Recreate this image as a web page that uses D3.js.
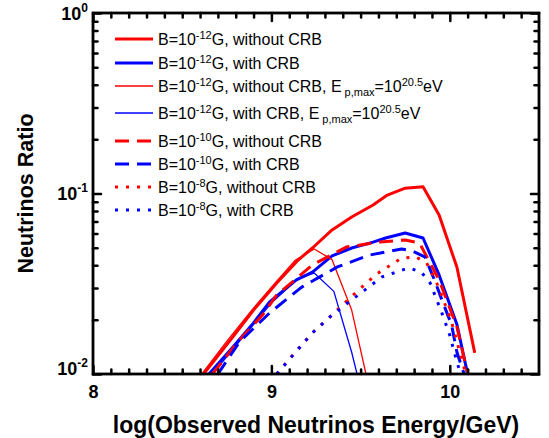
<!DOCTYPE html>
<html>
  <head>
    <script type="text/javascript" src="https://d3js.org/d3.v7.min.js"></script>
    <style>
      body {
        margin: 0;
        background-color: #fff;
      }
      .axis path {
        display: none;
      }
      .axis line {
        stroke: #000;
        stroke-width: 2.5;
        stroke-linecap: round;
      }
      .axis text,
      .tickLabel {
        fill: #000;
        font: bold 18px 'Liberation Sans', Arial, sans-serif;
      }
      .title {
        fill: #000;
        font: bold 23px 'Liberation Sans', Arial, sans-serif;
      }
      .legend text {
        fill: #000;
        font: 16px 'Liberation Sans', Arial, sans-serif;
      }
      .curve {
        fill: none;
        stroke-linejoin: round;
      }
    </style>
  </head>
  <body>
    <svg id="chart" width="549" height="438"></svg>

    <script type="text/javascript">
      // x = log(E/GeV), r = neutrinos ratio
      var eRedThick = [8.62, 8.77, 8.9, 9.03, 9.15, 9.23, 9.34, 9.45, 9.57, 9.65, 9.75, 9.85, 9.94, 10.04, 10.14];
      var rRedThick = [0.01, 0.0154, 0.0226, 0.0319, 0.0428, 0.0499, 0.0628, 0.0741, 0.0864, 0.098, 0.107, 0.109, 0.076, 0.039, 0.0131];

      var eBlueThick = [8.65, 8.77, 8.9, 8.99, 9.14, 9.23, 9.34, 9.45, 9.57, 9.64, 9.75, 9.85, 9.94, 10.04, 10.1];
      var rBlueThick = [0.01, 0.0136, 0.0192, 0.0251, 0.0332, 0.0367, 0.0451, 0.0499, 0.0538, 0.0567, 0.0604, 0.0567, 0.0354, 0.0188, 0.01];

      var eRedThin = [8.61, 8.755, 8.89, 9.02, 9.135, 9.24, 9.34, 9.45, 9.53];
      var rRedThin = [0.01, 0.0154, 0.0226, 0.0319, 0.0428, 0.0493, 0.043, 0.0226, 0.01];

      var eBlueThin = [8.67, 8.86, 9.0, 9.14, 9.24, 9.35, 9.45, 9.48];
      var rBlueThin = [0.01, 0.0169, 0.0247, 0.0332, 0.0363, 0.0287, 0.0132, 0.01];

      var eRedDash = [8.67, 8.82, 8.95, 9.03, 9.23, 9.42, 9.61, 9.75, 9.83, 9.94, 10.04, 10.1];
      var rRedDash = [0.01, 0.0154, 0.0212, 0.0274, 0.0402, 0.0505, 0.0539, 0.0553, 0.0532, 0.0332, 0.0182, 0.01];

      var eBlueDash = [8.7, 8.82, 8.99, 9.17, 9.37, 9.55, 9.73, 9.79, 9.86, 9.91, 9.96, 10.01, 10.04, 10.08];
      var rBlueDash = [0.01, 0.015, 0.0218, 0.0303, 0.0392, 0.0456, 0.0493, 0.048, 0.0445, 0.034, 0.0251, 0.0187, 0.0132, 0.01];

      var eRedDot = [9.03, 9.13, 9.23, 9.34, 9.44, 9.59, 9.73, 9.81, 9.87, 9.92, 9.96, 10.01, 10.05, 10.09];
      var rRedDot = [0.01, 0.0131, 0.0169, 0.0212, 0.0264, 0.0358, 0.0439, 0.0445, 0.0412, 0.0332, 0.0264, 0.0194, 0.0139, 0.01];

      var eBlueDot = [9.03, 9.23, 9.34, 9.45, 9.62, 9.77, 9.84, 9.89, 9.96, 10.0, 10.03, 10.06];
      var rBlueDot = [0.01, 0.0169, 0.0212, 0.0257, 0.0345, 0.0387, 0.0367, 0.0319, 0.0212, 0.0164, 0.0127, 0.01];

      // legend texts: field exponent, CRB case, and whether Ep,max = 10^20.5 eV
      var legendField = ['-12', '-12', '-12', '-12', '-10', '-10', '-8', '-8'];
      var legendCRB = ['without CRB', 'with CRB', 'without CRB', 'with CRB', 'without CRB', 'with CRB', 'without CRB', 'with CRB'];
      var legendEmax = [false, false, true, true, false, false, false, false];

      var xTickValues = [8, 9, 10];
      var yTickValues = [1, 0.1, 0.01];
      var yTickExp = ['0', '-1', '-2'];

      var series = [
        [eRedThick, rRedThick],
        [eBlueThick, rBlueThick],
        [eRedThin, rRedThin],
        [eBlueThin, rBlueThin],
        [eRedDash, rRedDash],
        [eBlueDash, rBlueDash],
        [eRedDot, rRedDot],
        [eBlueDot, rBlueDot],
      ];
      // line styles, same order as series
      var styles = [
        { color: '#ff0000', width: 3, dash: null },
        { color: '#0000ff', width: 3, dash: null },
        { color: '#ff0000', width: 1.3, dash: null },
        { color: '#0000ff', width: 1.3, dash: null },
        { color: '#ff0000', width: 3, dash: '14,8' },
        { color: '#0000ff', width: 3, dash: '14,8' },
        { color: '#ff0000', width: 3, dash: '3,8' },
        { color: '#0000ff', width: 3, dash: '3,8' },
      ];

      // plot box in page pixels (note: "top" is a reserved window name)
      var plotL = 93, plotT = 13, plotR = 539, plotB = 374;
      var svg = d3.select('#chart');

      var xScale = d3.scaleLinear().domain([8, 10.5]).range([plotL, plotR]);
      var yScale = d3.scaleLog().domain([0.01, 1]).range([plotB, plotT]);

      svg.append('clipPath').attr('id', 'plotClip')
        .append('rect')
        .attr('x', plotL).attr('y', plotT)
        .attr('width', plotR - plotL).attr('height', plotB - plotT);

      // curves
      var line = d3.line()
        .x(function (d) { return xScale(d[0]); })
        .y(function (d) { return yScale(d[1]); });

      svg.append('g')
        .attr('clip-path', 'url(#plotClip)')
        .selectAll('path')
        .data(series)
        .enter()
        .append('path')
        .attr('class', 'curve')
        .attr('d', function (s) {
          return line(d3.zip(s[0], s[1]));
        })
        .attr('stroke', function (s, i) { return styles[i].color; })
        .attr('stroke-width', function (s, i) { return styles[i].width; })
        .attr('stroke-dasharray', function (s, i) { return styles[i].dash; });

      // ticks (all pointing inward)
      var xMinor = d3.range(80, 105).map(function (d) { return d / 10; })
        .filter(function (d) { return xTickValues.indexOf(d) < 0; });
      var yMinor = [];
      [0.01, 0.1].forEach(function (dec) {
        for (var k = 2; k <= 9; k++) yMinor.push(k * dec);
      });

      svg.append('g').attr('class', 'axis')
        .attr('transform', 'translate(0,' + plotB + ')')
        .call(d3.axisBottom(xScale).tickValues(xMinor).tickSize(-4.5).tickFormat(''));
      svg.append('g').attr('class', 'axis')
        .attr('transform', 'translate(0,' + plotB + ')')
        .call(d3.axisBottom(xScale).tickValues(xTickValues).tickSize(-8).tickPadding(11).tickFormat(d3.format('d')));
      svg.append('g').attr('class', 'axis')
        .attr('transform', 'translate(0,' + plotT + ')')
        .call(d3.axisTop(xScale).tickValues(xMinor).tickSize(-4.5).tickFormat(''));
      svg.append('g').attr('class', 'axis')
        .attr('transform', 'translate(0,' + plotT + ')')
        .call(d3.axisTop(xScale).tickValues(xTickValues).tickSize(-8).tickFormat(''));

      svg.append('g').attr('class', 'axis')
        .attr('transform', 'translate(' + plotL + ',0)')
        .call(d3.axisLeft(yScale).tickValues(yMinor).tickSize(-4.5).tickFormat(''));
      svg.append('g').attr('class', 'axis')
        .attr('transform', 'translate(' + plotL + ',0)')
        .call(d3.axisLeft(yScale).tickValues(yTickValues).tickSize(-8).tickFormat(''));
      svg.append('g').attr('class', 'axis')
        .attr('transform', 'translate(' + plotR + ',0)')
        .call(d3.axisRight(yScale).tickValues(yMinor).tickSize(-4.5).tickFormat(''));
      svg.append('g').attr('class', 'axis')
        .attr('transform', 'translate(' + plotR + ',0)')
        .call(d3.axisRight(yScale).tickValues(yTickValues).tickSize(-8).tickFormat(''));

      // y tick labels 10^n (bottom one nudged up like the original)
      var yLabelShift = [7, 6, 1];
      yTickValues.forEach(function (v, i) {
        var t = svg.append('text')
          .attr('class', 'tickLabel')
          .attr('text-anchor', 'end')
          .attr('x', plotL - 5)
          .attr('y', yScale(v) + yLabelShift[i]);
        t.append('tspan').text('10');
        t.append('tspan').attr('dy', -8).style('font-size', '12px').text(yTickExp[i]);
      });

      // frame
      svg.append('rect')
        .attr('x', plotL).attr('y', plotT)
        .attr('width', plotR - plotL).attr('height', plotB - plotT)
        .attr('fill', 'none')
        .attr('stroke', '#000')
        .attr('stroke-width', 2.8);

      // axis titles
      svg.append('text')
        .attr('class', 'title')
        .attr('text-anchor', 'middle')
        .attr('x', (plotL + plotR) / 2)
        .attr('y', 433)
        .text('log(Observed Neutrinos Energy/GeV)');
      svg.append('text')
        .attr('class', 'title')
        .attr('text-anchor', 'middle')
        .attr('transform', 'translate(33,' + (plotT + plotB) / 2 + ') rotate(-90)')
        .style('font-size', '21.5px')
        .text('Neutrinos Ratio');

      // legend
      var legendY = [39, 63, 86, 113, 141, 164, 187, 210];
      var legend = svg.append('g').attr('class', 'legend');
      legendField.forEach(function (f, i) {
        var st = styles[i];
        legend.append('line')
          .attr('x1', 115).attr('x2', 153)
          .attr('y1', legendY[i]).attr('y2', legendY[i])
          .attr('stroke', st.color)
          .attr('stroke-width', st.width)
          .attr('stroke-dasharray', st.dash);
        var t = legend.append('text')
          .attr('x', 158)
          .attr('y', legendY[i] + 6);
        t.append('tspan').text('B=10');
        t.append('tspan').attr('dy', -6).style('font-size', '11px').text(f);
        t.append('tspan').attr('dy', 6).text('G, ' + legendCRB[i]);
        if (legendEmax[i]) {
          t.append('tspan').text(', E');
          t.append('tspan').attr('dx', 3).attr('dy', 4).style('font-size', '11px').text('p,max');
          t.append('tspan').attr('dy', -4).text('=10');
          t.append('tspan').attr('dy', -6).style('font-size', '11px').text('20.5');
          t.append('tspan').attr('dy', 6).text('eV');
        }
      });
    </script>
  </body>
</html>
